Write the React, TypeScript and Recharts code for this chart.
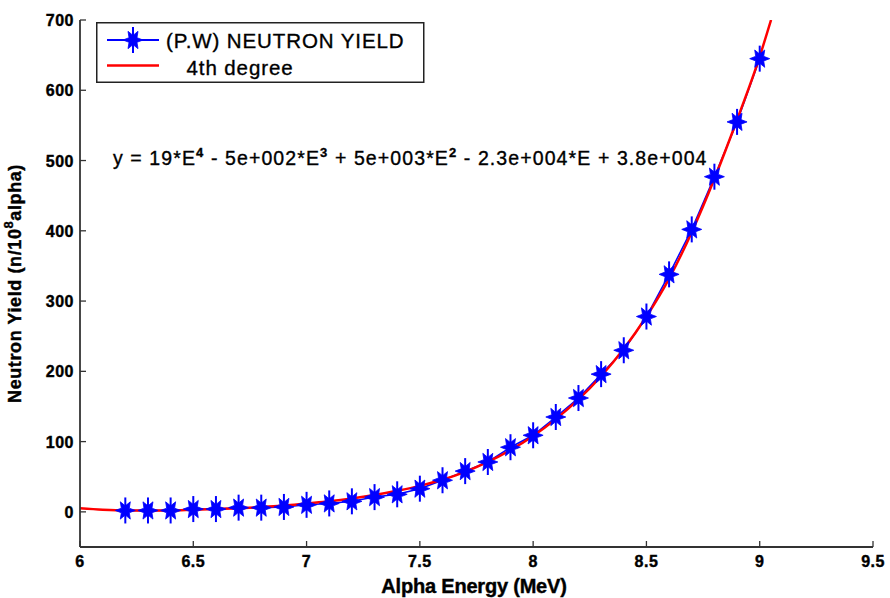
import React from 'react';
import { ComposedChart, Line, XAxis, YAxis, Legend } from 'recharts';

const energy = [6.2, 6.3, 6.4, 6.5, 6.6, 6.7, 6.8, 6.9, 7.0, 7.1, 7.2, 7.3, 7.4, 7.5, 7.6, 7.7, 7.8, 7.9, 8.0, 8.1, 8.2, 8.3, 8.4, 8.5, 8.6, 8.7, 8.8, 8.9, 9.0];
const neutronYield = [2, 2, 2, 4, 4, 6, 6, 7, 10, 12, 15, 21, 25, 33, 45, 58, 71, 92, 109, 135, 162, 196, 230, 278, 338, 402, 477, 555, 645];

const fitEnergy = [6.0, 6.1, 6.2, 6.3, 6.4, 6.5, 6.6, 6.7, 6.8, 6.9, 7.0, 7.1, 7.2, 7.3, 7.4, 7.5, 7.6, 7.7, 7.8, 7.9, 8.0, 8.1, 8.2, 8.3, 8.4, 8.5, 8.6, 8.7, 8.8, 8.9, 9.0, 9.05];
const fitYield = [5, 3, 2, 2, 2, 3, 4, 5, 7, 9, 12, 15, 19, 24, 30, 37, 46, 57, 71, 88, 108, 132, 160, 193, 232, 278, 332, 398, 474, 558, 648, 700];

const xTicks = [6, 6.5, 7, 7.5, 8, 8.5, 9, 9.5];
const yTicks = [0, 100, 200, 300, 400, 500, 600, 700];

const seriesName = '(P.W) NEUTRON YIELD';
const fitName = '4th degree';
const xLabel = 'Alpha Energy (MeV)';

const pwData = energy.map((x, i) => ({ x, y: neutronYield[i] }));
const fitData = fitEnergy.map((x, i) => ({ x, y: fitYield[i] }));

const BLUE = '#0000ff';
const RED = '#ff0000';
const AXIS = '#333333';
const tickFont = { fontFamily: '"Liberation Sans", Arial, sans-serif', fontSize: 16, fontWeight: 700 as const };

function starPath(cx: number, cy: number, ro: number, ri: number) {
  let d = '';
  for (let i = 0; i < 12; i++) {
    const a = (i * Math.PI) / 6;
    const r = i % 2 === 0 ? ro : ri;
    const px = cx + r * Math.cos(a);
    const py = cy - r * Math.sin(a);
    d += (i === 0 ? 'M' : 'L') + px.toFixed(2) + ',' + py.toFixed(2);
  }
  return d + 'Z';
}

const StarMarker = (props: any) => {
  const { cx, cy } = props;
  if (cx == null || cy == null) return null;
  return (
    <g>
      <line x1={cx} y1={cy - 13} x2={cx} y2={cy + 13} stroke={BLUE} strokeWidth={2} />
      <path d={starPath(cx, cy, 10, 4.6)} fill={BLUE} stroke={BLUE} strokeWidth={0.8} />
    </g>
  );
};

const BottomTick = (props: any) => {
  const { x, y, payload } = props;
  return (
    <g>
      <line x1={x} y1={y} x2={x} y2={y - 6} stroke={AXIS} strokeWidth={1.3} />
      <text x={x} y={y + 20} textAnchor="middle" fill="#000" stroke="#000" strokeWidth={0.4} letterSpacing={0.5} {...tickFont}>
        {String(payload.value)}
      </text>
    </g>
  );
};

const TopTick = (props: any) => {
  const { x, y } = props;
  return <line x1={x} y1={y} x2={x} y2={y + 6} stroke={AXIS} strokeWidth={1.3} />;
};

const LeftTick = (props: any) => {
  const { x, y, payload } = props;
  return (
    <g>
      <line x1={x} y1={y} x2={x + 6} y2={y} stroke={AXIS} strokeWidth={1.3} />
      <text x={x - 6} y={y + 6} textAnchor="end" fill="#000" stroke="#000" strokeWidth={0.4} letterSpacing={0.5} {...tickFont}>
        {String(payload.value)}
      </text>
    </g>
  );
};

const RightTick = (props: any) => {
  const { x, y } = props;
  return <line x1={x} y1={y} x2={x - 6} y2={y} stroke={AXIS} strokeWidth={1.3} />;
};

const YLabel = (props: any) => {
  const vb = props.viewBox || { x: 0, y: 20, width: 80, height: 527 };
  const cx = 15;
  const cy = vb.y + vb.height / 2;
  return (
    <text
      x={cx}
      y={cy}
      transform={`rotate(-90, ${cx}, ${cy})`}
      textAnchor="middle"
      dominantBaseline="central"
      fill="#000"
      stroke="#000"
      strokeWidth={0.4}
      fontFamily='"Liberation Sans", Arial, sans-serif'
      fontSize={18}
      fontWeight={700}
      letterSpacing={0.6}
    >
      Neutron Yield (n/10<tspan dy={-7} fontSize={13}>8</tspan>
      <tspan dy={7}>alpha)</tspan>
    </text>
  );
};

const XLabel = (props: any) => {
  const vb = props.viewBox || { x: 80, y: 547, width: 793, height: 51 };
  return (
    <text
      x={474}
      y={vb.y + 46}
      textAnchor="middle"
      fill="#000"
      stroke="#000"
      strokeWidth={0.4}
      fontFamily='"Liberation Sans", Arial, sans-serif'
      fontSize={20}
      fontWeight={700}
      letterSpacing={-0.2}
    >
      {xLabel}
    </text>
  );
};

const LegendBox = () => (
  <svg width={330} height={62} style={{ display: 'block' }}>
    <rect x={0.75} y={0.75} width={327} height={59.5} fill="#fff" stroke="#222" strokeWidth={1.5} />
    <line x1={11} y1={18} x2={63} y2={18} stroke={BLUE} strokeWidth={2} />
    <StarMarker cx={37} cy={18} />
    <text x={70} y={26} fontFamily='"Liberation Sans", Arial, sans-serif' fontSize={20.5} letterSpacing={0.9} fill="#000" stroke="#000" strokeWidth={0.35}>
      {seriesName}
    </text>
    <line x1={11} y1={43.5} x2={63} y2={43.5} stroke={RED} strokeWidth={2.5} />
    <text x={90.5} y={52.5} fontFamily='"Liberation Sans", Arial, sans-serif' fontSize={20.5} letterSpacing={0.9} fill="#000" stroke="#000" strokeWidth={0.35}>
      {fitName}
    </text>
  </svg>
);

const eqFont = {
  fontFamily: '"Liberation Sans", Arial, sans-serif',
  fontSize: 19.5,
  letterSpacing: 1.1,
};

export default function App() {
  return (
    <div style={{ position: 'absolute', left: 0, top: 0, width: 890, height: 598, background: '#fff' }}>
      <ComposedChart width={890} height={598} margin={{ top: 20, right: 17, bottom: 0, left: 0 }}>
        <XAxis
          xAxisId="bottom"
          type="number"
          dataKey="x"
          domain={[6, 9.5]}
          ticks={xTicks}
          allowDataOverflow
          height={51}
          tickSize={0}
          tickMargin={0}
          tickLine={false}
          tick={<BottomTick />}
          axisLine={{ stroke: AXIS, strokeWidth: 1.8 }}
          label={<XLabel />}
        />
        <XAxis
          xAxisId="top"
          orientation="top"
          type="number"
          dataKey="x"
          domain={[6, 9.5]}
          ticks={xTicks}
          allowDataOverflow
          height={0}
          tickSize={0}
          tickMargin={0}
          tickLine={false}
          tick={<TopTick />}
          axisLine={{ stroke: AXIS, strokeWidth: 1.8 }}
        />
        <YAxis
          yAxisId="left"
          type="number"
          domain={[-50, 700]}
          ticks={yTicks}
          allowDataOverflow
          width={80}
          tickSize={0}
          tickMargin={0}
          tickLine={false}
          tick={<LeftTick />}
          axisLine={{ stroke: AXIS, strokeWidth: 1.8 }}
          label={<YLabel />}
        />
        <YAxis
          yAxisId="right"
          orientation="right"
          type="number"
          domain={[-50, 700]}
          ticks={yTicks}
          allowDataOverflow
          width={0}
          tickSize={0}
          tickMargin={0}
          tickLine={false}
          tick={<RightTick />}
          axisLine={{ stroke: AXIS, strokeWidth: 1.8 }}
        />
        <Line
          xAxisId="top"
          yAxisId="right"
          data={fitData}
          dataKey="y"
          stroke="none"
          dot={false}
          activeDot={false}
          legendType="none"
          isAnimationActive={false}
        />
        <Line
          xAxisId="bottom"
          yAxisId="left"
          data={pwData}
          dataKey="y"
          name={seriesName}
          type="linear"
          stroke={BLUE}
          strokeWidth={1.5}
          dot={(p: any) => <StarMarker key={`s-${p.index}`} cx={p.cx} cy={p.cy} />}
          activeDot={false}
          isAnimationActive={false}
        />
        <Line
          xAxisId="bottom"
          yAxisId="left"
          data={fitData}
          dataKey="y"
          name={fitName}
          type="monotone"
          stroke={RED}
          strokeWidth={2.5}
          dot={false}
          activeDot={false}
          isAnimationActive={false}
        />
        <Legend
          layout="vertical"
          align="center"
          verticalAlign="middle"
          wrapperStyle={{ left: 96, top: 22, width: 330, height: 62 }}
          content={() => <LegendBox />}
        />
      </ComposedChart>
      <svg width={890} height={598} style={{ position: 'absolute', left: 0, top: 0, pointerEvents: 'none' }}>
        <text x={113} y={165} fill="#000" stroke="#000" strokeWidth={0.35} {...eqFont}>
          y = 19*E<tspan dy={-8} fontSize={13} fontWeight={700}>4</tspan>
          <tspan dy={8}> - 5e+002*E</tspan>
          <tspan dy={-8} fontSize={13} fontWeight={700}>3</tspan>
          <tspan dy={8}> + 5e+003*E</tspan>
          <tspan dy={-8} fontSize={13} fontWeight={700}>2</tspan>
          <tspan dy={8}> - 2.3e+004*E + 3.8e+004</tspan>
        </text>
      </svg>
    </div>
  );
}
